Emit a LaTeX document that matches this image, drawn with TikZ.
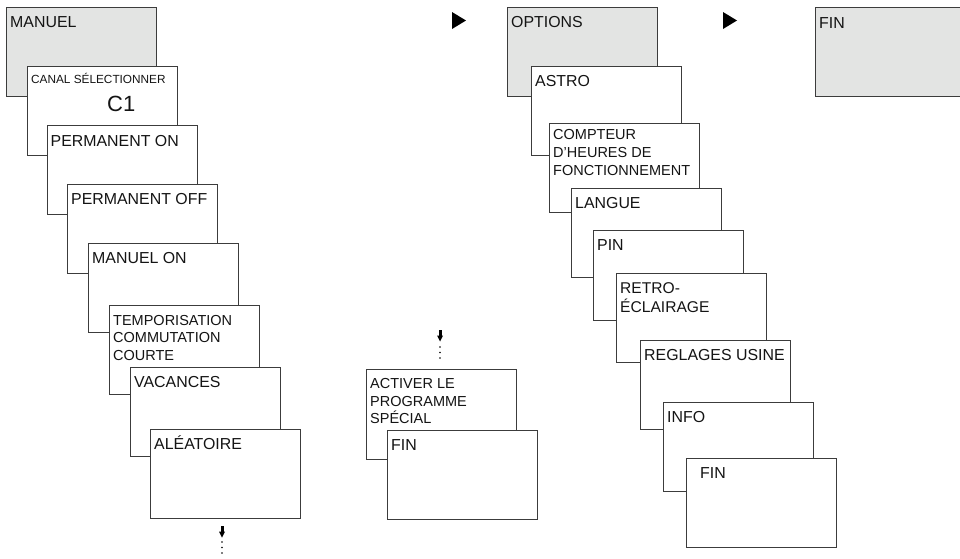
\documentclass[tikz,border=0pt]{standalone}
\usepackage{fontspec}
\setmainfont{Liberation Sans}
\usetikzlibrary{calc}
\definecolor{boxline}{RGB}{60,60,60}
\definecolor{boxgray}{RGB}{227,228,227}
\definecolor{txt}{RGB}{20,20,20}
\tikzset{
  screen/.style={draw=boxline, line width=1pt, fill=white, minimum width=150pt,
    minimum height=89.5pt, anchor=north west, inner sep=0pt, outer sep=0pt},
  greyscreen/.style={screen, fill=boxgray},
  lbl/.style={anchor=base west, inner sep=0pt, text=txt, align=left,
    font=\fontsize{15.9}{17.5}\selectfont},
  smalllbl/.style={lbl, font=\fontsize{14.5}{17.7}\selectfont},
  tinylbl/.style={lbl, font=\fontsize{11.8}{14}\selectfont},
  biglbl/.style={lbl, font=\fontsize{22}{26}\selectfont},
  arrowfill/.style={fill=black},
}
\begin{document}
\begin{tikzpicture}[x=1pt, y=-1pt]
\useasboundingbox (0,0) rectangle (960,558);
\fill[white] (0,0) rectangle (960,558);

% ---------- left column ----------
\node[greyscreen] (m1) at (6,7) {};
\node[lbl] (m1t) at ($(m1.north west)+(4,20.5)$) {MANUEL};
\node[screen] (m2) at (27,66) {};
\node[tinylbl] (m2t) at ($(m2.north west)+(4,17)$) {CANAL SÉLECTIONNER};
\node[biglbl] (m2c) at ($(m2.north west)+(80,45.5)$) {C1};
\node[screen] (m3) at (47,125) {};
\node[lbl] (m3t) at ($(m3.north west)+(3.5,21)$) {PERMANENT ON};
\node[screen] (m4) at (67,184) {};
\node[lbl] (m4t) at ($(m4.north west)+(4,20.5)$) {PERMANENT OFF};
\node[screen] (m5) at (88,243) {};
\node[lbl] (m5t) at ($(m5.north west)+(4,20.5)$) {MANUEL ON};
\node[screen] (m6) at (109,305) {};
\node[smalllbl, font=\fontsize{14.5}{17.5}\selectfont] (m6t) at ($(m6.north west)+(4,55)$) {TEMPORISATION\\COMMUTATION\\COURTE};
\node[screen] (m7) at (130,367) {};
\node[lbl] (m7t) at ($(m7.north west)+(4,20)$) {VACANCES};
\node[screen] (m8) at (150,429) {};
\node[lbl] (m8t) at ($(m8.north west)+(4,20)$) {ALÉATOIRE};

% down arrow + dots (left)
\fill[arrowfill] (220.5,526) rectangle (223.5,532);
\fill[arrowfill] (219,531.5) -- (225,531.5) -- (222,537.5) -- cycle;
\foreach \yy in {542,547.5,553} \fill (222,\yy) circle (0.9);

% ---------- middle column ----------
\fill[arrowfill] (438.5,330) rectangle (441.5,336);
\fill[arrowfill] (437,335.5) -- (443,335.5) -- (440,341.5) -- cycle;
\foreach \yy in {347,352.5,358} \fill (440,\yy) circle (0.9);

\node[screen] (s1) at (366,369.5) {};
\node[smalllbl] (s1t) at ($(s1.north west)+(4,54.4)$) {ACTIVER LE\\PROGRAMME\\SPÉCIAL};
\node[screen] (s2) at (387,430) {};
\node[lbl] (s2t) at ($(s2.north west)+(4,20)$) {FIN};

% ---------- right column ----------
\fill[arrowfill] (452,12) -- (466,20.5) -- (452,29) -- cycle;
\node[greyscreen] (o1) at (507,7) {};
\node[lbl] (o1t) at ($(o1.north west)+(4,20.5)$) {OPTIONS};
\node[screen] (o2) at (531,66) {};
\node[lbl] (o2t) at ($(o2.north west)+(4,20)$) {ASTRO};
\node[screen] (o3) at (549,123) {};
\node[smalllbl, font=\fontsize{14.5}{18}\selectfont] (o3t) at ($(o3.north west)+(4,52.3)$) {COMPTEUR\\D'HEURES DE\\FONCTIONNEMENT};
\node[screen] (o4) at (571,188) {};
\node[lbl] (o4t) at ($(o4.north west)+(4,20)$) {LANGUE};
\node[screen] (o5) at (593,230.5) {};
\node[lbl] (o5t) at ($(o5.north west)+(4,20)$) {PIN};
\node[screen] (o6) at (616,273) {};
\node[lbl, font=\fontsize{15.6}{19}\selectfont] (o6t) at ($(o6.north west)+(4,39.3)$) {RETRO-\\ÉCLAIRAGE};
\node[screen] (o7) at (640,340) {};
\node[lbl] (o7t) at ($(o7.north west)+(4,20)$) {REGLAGES USINE};
\node[screen] (o8) at (663,402) {};
\node[lbl] (o8t) at ($(o8.north west)+(4,20)$) {INFO};
\node[screen] (o9) at (686,458) {};
\node[lbl] (o9t) at ($(o9.north west)+(14,20.3)$) {FIN};

% ---------- far right ----------
\fill[arrowfill] (723,12) -- (737,20.5) -- (723,29) -- cycle;
\node[greyscreen, minimum width=170pt] (f1) at (815,7) {};
\node[lbl] (f1t) at ($(f1.north west)+(4,21)$) {FIN};
\end{tikzpicture}
\end{document}
